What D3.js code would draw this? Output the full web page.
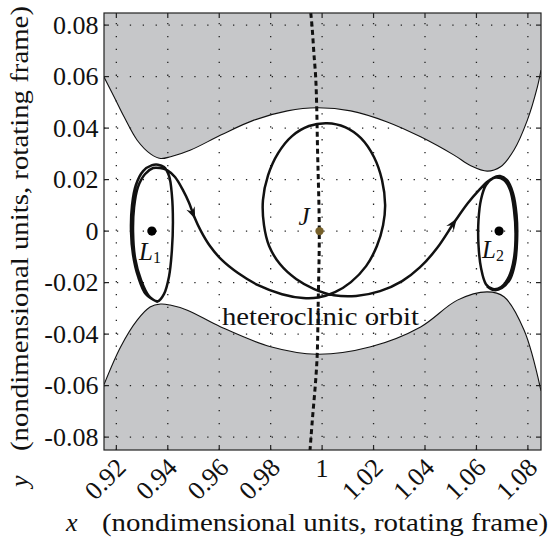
<!DOCTYPE html>
<html><head><meta charset="utf-8">
<script src="https://cdn.jsdelivr.net/npm/d3@7"></script>
<style>body{margin:0;background:#fff}svg{display:block}
svg text{font-family:"Liberation Serif" !important}</style>
</head><body><svg id="c" width="550" height="544" font-family="Liberation Serif"></svg>
<script>
// ---- data ----
const xTicks = [0.92,0.94,0.96,0.98,1,1.02,1.04,1.06,1.08];
const xTickLabels = ["0.92","0.94","0.96","0.98","1","1.02","1.04","1.06","1.08"];
const yTicks = [-0.08,-0.06,-0.04,-0.02,0,0.02,0.04,0.06,0.08];
const yTickLabels = ["-0.08","-0.06","-0.04","-0.02","0","0.02","0.04","0.06","0.08"];

// zero-velocity curve, upper boundary of forbidden region
const zvcUpperX = [0.9152,0.9191,0.9230,0.9281,0.9334,0.9372,0.9411,0.9489,0.9606,0.9735,0.9865,0.9981,1.0111,1.0253,1.0383,1.0513,1.0578,1.0642,1.0694,1.0746,1.0798,1.0837,1.0851];
const zvcUpperY = [0.0598,0.0522,0.0444,0.0353,0.0299,0.0282,0.0289,0.0315,0.0373,0.0431,0.0467,0.0479,0.0467,0.0424,0.0366,0.0295,0.0254,0.0233,0.0250,0.0315,0.0431,0.0560,0.0625];
// lower boundary
const zvcLowerX = [0.9152,0.9217,0.9281,0.9331,0.9372,0.9409,0.9476,0.9606,0.9800,0.9981,1.0189,1.0383,1.0526,1.0642,1.0707,1.0785,1.0851];
const zvcLowerY = [-0.0596,-0.0449,-0.0346,-0.0295,-0.0283,-0.0287,-0.0307,-0.0372,-0.0449,-0.0478,-0.0449,-0.0372,-0.0268,-0.0236,-0.0255,-0.0384,-0.0620];

// dashed curve
const dashX = [0.9956,0.9962,0.9968,0.9975,0.9979,0.9982,0.9989,0.9985,0.9981,0.9975,0.9962,0.9953];
const dashY = [0.0847,0.0781,0.0691,0.0598,0.0482,0.0326,0,-0.0268,-0.0478,-0.0579,-0.0734,-0.0850];

// heteroclinic orbit (L1 Lyapunov -> around J -> L2 Lyapunov)
const orbitX = [0.9362,0.9315,0.9284,0.9265,0.9257,0.9261,0.9276,0.9304,0.9339,0.9362,0.9385,0.9405,0.9416,0.9420,0.9416,0.9405,0.9385,0.9362,0.9327,0.9296,0.9273,0.9265,0.9269,0.9284,0.9311,0.9343,0.9370,0.9397,0.9428,0.9459,0.9483,0.9502,0.9529,0.9564,0.9611,0.9673,0.9751,0.9844,0.9926,0.9984,1.0050,1.0112,1.0171,1.0213,1.0237,1.0245,1.0233,1.0202,1.0151,1.0089,1.0019,0.9949,0.9883,0.9829,0.9790,0.9770,0.9774,0.9794,0.9836,0.9899,0.9969,1.0046,1.0132,1.0225,1.0311,1.0381,1.0447,1.0517,1.0567,1.0610,1.0645,1.0676,1.0707,1.0731,1.0746,1.0752,1.0746,1.0727,1.0696,1.0664,1.0637,1.0618,1.0608,1.0608,1.0618,1.0637,1.0664,1.0692,1.0719,1.0742,1.0756,1.0758,1.0750,1.0731,1.0699,1.0668,1.0641];
const orbitY = [-0.0276,-0.0245,-0.0175,-0.0093,0,0.0101,0.0179,0.0233,0.0256,0.0258,0.0249,0.0214,0.0140,0.0035,-0.0074,-0.0175,-0.0245,-0.0272,-0.0252,-0.0190,-0.0105,-0.0004,0.0093,0.0171,0.0221,0.0245,0.0245,0.0237,0.0210,0.0159,0.0109,0.0058,0,-0.0058,-0.0113,-0.0163,-0.0210,-0.0245,-0.0260,-0.0258,-0.0237,-0.0198,-0.0136,-0.0058,0.0023,0.0101,0.0198,0.0287,0.0361,0.0404,0.0419,0.0408,0.0369,0.0303,0.0217,0.0120,0.0023,-0.0058,-0.0128,-0.0186,-0.0225,-0.0249,-0.0252,-0.0233,-0.0194,-0.0140,-0.0066,0.0039,0.0109,0.0159,0.0194,0.0208,0.0198,0.0159,0.0082,-0.0008,-0.0105,-0.0175,-0.0217,-0.0225,-0.0206,-0.0144,-0.0054,0.0043,0.0124,0.0179,0.0206,0.0214,0.0198,0.0148,0.0062,-0.0035,-0.0124,-0.0186,-0.0221,-0.0229,-0.0214];
const arrowIndex = [31, 67];

const pointNames = ["L1","J","L2"];
const pointX = [0.9338, 0.9990, 1.0688];
const pointY = [0, 0, 0];
const pointColors = ["#000000","#76602a","#000000"];

// ---- layout ----
const svg = d3.select("#c");
const L=104, R=541, T=13, B=450;
const x = d3.scaleLinear().domain([0.9152,1.0851]).range([L,R]);
const y = d3.scaleLinear().domain([-0.0850,0.0847]).range([B,T]);
const gray = "#c6c7c9";

svg.append("clipPath").attr("id","clip").append("rect")
  .attr("x",L).attr("y",T).attr("width",R-L).attr("height",B-T);
const g = svg.append("g").attr("clip-path","url(#clip)");

const upper = zvcUpperX.map((v,i)=>[v,zvcUpperY[i]]);
const lower = zvcLowerX.map((v,i)=>[v,zvcLowerY[i]]);
const lineGen = d3.line().x(d=>x(d[0])).y(d=>y(d[1])).curve(d3.curveCatmullRom.alpha(0.5));

// forbidden regions
const upArea = d3.area().x(d=>x(d[0])).y0(y(0.0847)-2).y1(d=>y(d[1])).curve(d3.curveCatmullRom.alpha(0.5));
const loArea = d3.area().x(d=>x(d[0])).y0(y(-0.0850)+2).y1(d=>y(d[1])).curve(d3.curveCatmullRom.alpha(0.5));
g.append("path").attr("d",upArea(upper)).attr("fill",gray);
g.append("path").attr("d",loArea(lower)).attr("fill",gray);
g.append("path").attr("d",lineGen(upper)).attr("fill","none").attr("stroke","#111").attr("stroke-width",1.1);
g.append("path").attr("d",lineGen(lower)).attr("fill","none").attr("stroke","#111").attr("stroke-width",1.1);

// grid
const grid = g.append("g").attr("stroke","#222").attr("stroke-width",1.3).attr("stroke-dasharray","1.3,11.6");
xTicks.forEach(t=>grid.append("line").attr("x1",x(t)).attr("x2",x(t)).attr("y1",B).attr("y2",T));
yTicks.forEach(t=>grid.append("line").attr("y1",y(t)).attr("y2",y(t)).attr("x1",L).attr("x2",R));

// dashed curve
const dash = dashX.map((v,i)=>[v,dashY[i]]);
g.append("path").attr("d",lineGen(dash)).attr("fill","none").attr("stroke","#111")
  .attr("stroke-width",3).attr("stroke-dasharray","5,3.5");

// orbit
const orbit = orbitX.map((v,i)=>[v,orbitY[i]]);
g.append("path").attr("d",lineGen(orbit)).attr("fill","none").attr("stroke","#111")
  .attr("stroke-width",2.5).attr("stroke-linejoin","round");
arrowIndex.forEach(i=>{
  const a = orbit[i-1], b = orbit[i+1], p = orbit[i];
  const ang = Math.atan2(y(b[1])-y(a[1]), x(b[0])-x(a[0]))*180/Math.PI;
  g.append("path").attr("d","M3,0 L-9,-4.5 L-5,0 L-9,4.5 Z").attr("fill","#111")
    .attr("transform",`translate(${x(p[0])},${y(p[1])}) rotate(${ang})`);
});

// points
pointNames.forEach((n,i)=>{
  g.append("circle").attr("cx",x(pointX[i])).attr("cy",y(pointY[i])).attr("r",n==="J"?4.2:4.6).attr("fill",pointColors[i]);
});

// frame + ticks
svg.append("rect").attr("x",L).attr("y",T).attr("width",R-L).attr("height",B-T)
  .attr("fill","none").attr("stroke","#222").attr("stroke-width",1.2);
const tk = svg.append("g").attr("stroke","#222").attr("stroke-width",1.2);
xTicks.forEach(t=>{
  tk.append("line").attr("x1",x(t)).attr("x2",x(t)).attr("y1",B).attr("y2",B-5);
  tk.append("line").attr("x1",x(t)).attr("x2",x(t)).attr("y1",T).attr("y2",T+5);
});
yTicks.forEach(t=>{
  tk.append("line").attr("y1",y(t)).attr("y2",y(t)).attr("x1",L).attr("x2",L+5);
  tk.append("line").attr("y1",y(t)).attr("y2",y(t)).attr("x1",R).attr("x2",R-5);
});

function txt(sel){ return sel.append("text").attr("font-family","Liberation Serif").style("font-family",'"Liberation Serif"').attr("fill","#111"); }

// tick labels
yTicks.forEach((t,i)=>{
  txt(svg).attr("x",L-5.5).attr("y",y(t)+8.5).attr("text-anchor","end")
    .attr("font-size",26).text(yTickLabels[i]);
});
xTicks.forEach((t,i)=>{
  const lab = xTickLabels[i];
  if (lab === "1") {
    txt(svg).attr("x",x(t)).attr("y",B+27).attr("text-anchor","middle")
      .attr("font-size",26).text(lab);
  } else {
    txt(svg).attr("text-anchor","end")
      .attr("transform",`translate(${x(t)+11},${B+19}) rotate(-45)`)
      .attr("font-size",26).text(lab);
  }
});

// axis titles
txt(svg).attr("x",66).attr("y",531).attr("font-style","italic").attr("font-size",26).text("x");
txt(svg).attr("x",102).attr("y",531).attr("font-size",26)
  .attr("textLength",446).attr("lengthAdjust","spacingAndGlyphs")
  .text("(nondimensional units, rotating frame)");
txt(svg).attr("transform","translate(27.5,487) rotate(-90)").attr("font-style","italic").attr("font-size",26).text("y");
txt(svg).attr("transform","translate(27.5,451) rotate(-90)").attr("font-size",26)
  .attr("textLength",445).attr("lengthAdjust","spacingAndGlyphs")
  .text("(nondimensional units, rotating frame)");

// annotations
txt(svg).attr("x",304).attr("y",225).attr("text-anchor","middle")
  .attr("font-style","italic").attr("font-size",25).text("J");
const l1 = txt(svg).attr("x",139).attr("y",260).attr("font-size",25);
l1.append("tspan").attr("font-style","italic").text("L");
l1.append("tspan").attr("font-size",16).attr("dy",3).text("1");
const l2 = txt(svg).attr("x",482).attr("y",258).attr("font-size",25);
l2.append("tspan").attr("font-style","italic").text("L");
l2.append("tspan").attr("font-size",16).attr("dy",3).text("2");
txt(svg).attr("x",222).attr("y",325).attr("font-size",26)
  .attr("textLength",197).attr("lengthAdjust","spacingAndGlyphs").text("heteroclinic orbit");
</script></body></html>
